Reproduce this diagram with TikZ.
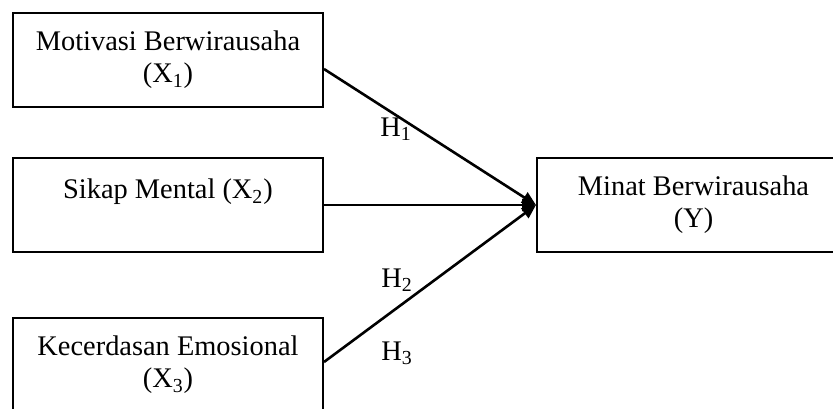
\documentclass[tikz,border=0pt]{standalone}
\usepackage{fontspec}
\setmainfont{Liberation Serif}
\usetikzlibrary{arrows.meta}

\begin{document}
\begin{tikzpicture} [>={Triangle[length=7pt,width=6pt]}, x=0.5pt, y=-0.5pt,
    box/.style={draw, line width=1pt, minimum width=155pt, minimum height=47pt, align=center, font=\fontsize{14.2}{16}\selectfont},
    hyp/.style={font=\fontsize{14.2}{16}\selectfont}]

       \useasboundingbox (0,0) rectangle (833,408);

             \node [box] (motiv) at (168,60) {Motivasi Berwirausaha\\(X\textsubscript{1})};
             \node [box] (sikap) at (168,205) {Sikap Mental (X\textsubscript{2})\\\mbox{}};
             \node [box] (kecer) at (168,365) {Kecerdasan Emosional\\(X\textsubscript{3})};
             \node [box, minimum width=156.5pt] (minat) at (693.5,205) {Minat Berwirausaha\\(Y)};

             \draw [line width=1.3pt,->] ([yshift=-4.5pt]motiv.east) -- (minat.west);
             \draw [line width=1.3pt,->] (sikap.east) -- (minat.west);
             \draw [line width=1.3pt,->] ([yshift=1.5pt]kecer.east) -- (minat.west);

             \node [hyp] (h1) at (396,129) {H\textsubscript{1}};
             \node [hyp] (h2) at (397,280) {H\textsubscript{2}};
             \node [hyp] (h3) at (397,353) {H\textsubscript{3}};
    \end{tikzpicture}
\end{document}
